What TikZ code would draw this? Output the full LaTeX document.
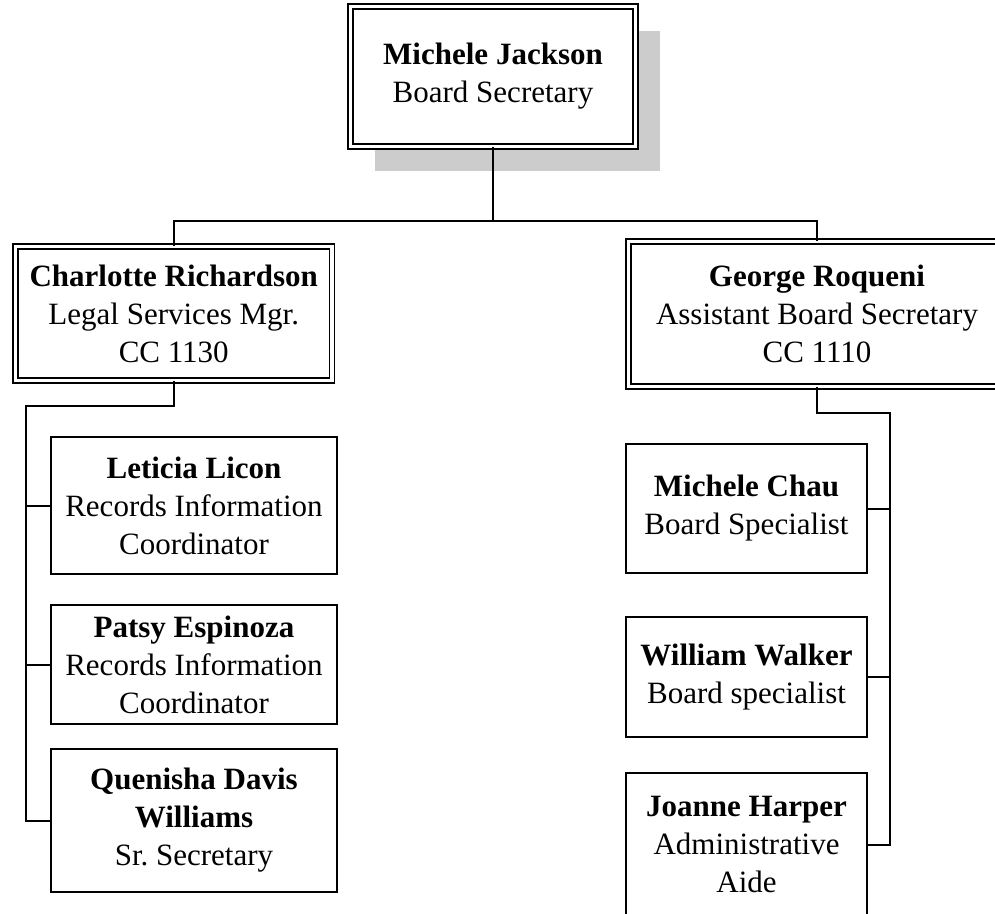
\documentclass[tikz,border=0pt]{standalone}
\usepackage{fontspec}
\setmainfont{Liberation Serif}
\usetikzlibrary{shadows}

\begin{document}
\begin{tikzpicture}[x=1pt,y=-1pt,
    staffbox/.style={draw, line width=2pt, fill=white, align=center, inner sep=0pt,
        font=\fontsize{31}{38}\selectfont},
    legalbox/.style={staffbox, minimum width=286pt},
    boardbox/.style={staffbox, minimum width=241pt},
    leadbox/.style={staffbox, double, double distance=3.2pt, line width=1.7pt},
    wire/.style={line width=2pt}]
    \useasboundingbox (0,0) rectangle (995,913);
    \clip (0,0) rectangle (995,913);
    \node[leadbox, minimum width=285pt, minimum height=140pt,
        drop shadow={shadow xshift=24pt, shadow yshift=-24pt, fill=black!20, opacity=1}]
        (jackson) at (493,76.5) {\textbf{Michele Jackson}\\Board Secretary};
    \node[leadbox, minimum width=316.5pt, minimum height=134pt]
        (richardson) at (173.75,313.5) {\textbf{Charlotte Richardson}\\Legal Services Mgr.\\CC 1130};
    \node[leadbox, minimum width=377pt, minimum height=145pt]
        (roqueni) at (817,314) {\textbf{George Roqueni}\\Assistant Board Secretary\\CC 1110};
    \node[legalbox, minimum height=137pt] (licon) at (194,505.5) {\textbf{Leticia Licon}\\Records Information\\Coordinator};
    \node[legalbox, minimum height=119pt] (espinoza) at (194,664.5) {\textbf{Patsy Espinoza}\\Records Information\\Coordinator};
    \node[legalbox, minimum height=143pt] (davis) at (194,820.5) {\textbf{Quenisha Davis}\\\textbf{Williams}\\Sr.\ Secretary};
    \node[boardbox, minimum height=129pt] (chau) at (746.5,508.5) {\textbf{Michele Chau}\\Board Specialist};
    \node[boardbox, minimum height=120pt] (walker) at (746.5,677) {\textbf{William Walker}\\Board specialist};
    \node[boardbox, minimum height=143pt] (harper) at (746.5,844.5) {\textbf{Joanne Harper}\\Administrative\\Aide};
    \coordinate (split) at (493,221);
    \coordinate (lefttrunk) at (26,406);
    \coordinate (righttrunk) at (890,413);
    \draw[wire] (jackson.south)--(split);
    \draw[wire] (richardson.north)|-(split)-|(roqueni.north);
    \draw[wire] (richardson.south)|-(lefttrunk)|-(davis.west);
    \draw[wire] (lefttrunk)|-(licon.west);
    \draw[wire] (lefttrunk)|-(espinoza.west);
    \draw[wire] (roqueni.south)|-(righttrunk)|-(harper.east);
    \draw[wire] (righttrunk)|-(chau.east);
    \draw[wire] (righttrunk)|-(walker.east);
\end{tikzpicture}
\end{document}
